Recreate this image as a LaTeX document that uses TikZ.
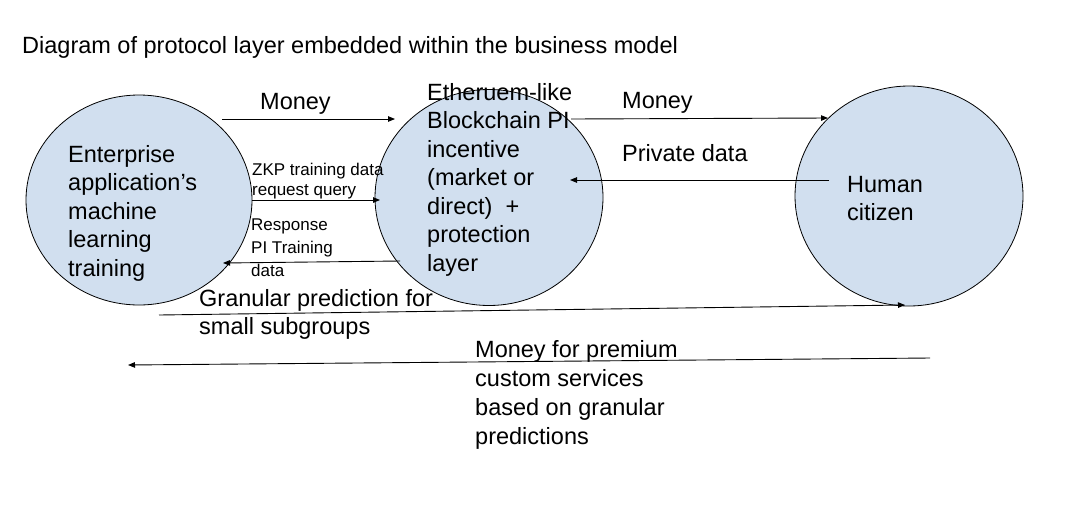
\documentclass[tikz,border=0pt]{standalone}
\usepackage{fontspec}
\setmainfont{Liberation Sans}
\usetikzlibrary{arrows.meta,shapes.geometric}
\definecolor{bubble}{HTML}{D1DFEF}
\newcommand\tstrut{\rule{0pt}{0.8em}}
\begin{document}
\begin{tikzpicture}[x=1pt,y=-1pt,
  bub/.style={draw=black, fill=bubble, line width=0.8pt},
  big/.style={anchor=north west, inner sep=0pt, align=left, font=\fontsize{23.5}{28.5}\selectfont},
  small/.style={anchor=north west, inner sep=0pt, align=left, font=\fontsize{17}{20}\selectfont},
  arr/.style={-{Triangle[length=7pt,width=5.5pt]}, line width=0.9pt}]
\useasboundingbox (0,0) rectangle (1078,512);
\fill[white] (0,0) rectangle (1078,512);

% bubbles
\coordinate (L) at (139,200);
\coordinate (M) at (489,197.5);
\coordinate (R) at (909,196);
\path[bub] (L) ellipse [x radius=113, y radius=105];
\path[bub] (M) ellipse [x radius=114, y radius=108];
\path[bub] (R) ellipse [x radius=114, y radius=110];

% connector end points
\coordinate (a1s) at (222,119);
\coordinate (a1e) at (395,119);
\coordinate (a2s) at (571,119);
\coordinate (a2e) at (828,118);
\coordinate (pds) at (829,180);
\coordinate (pde) at (570,180);
\coordinate (zs) at (252,200);
\coordinate (ze) at (380,200);
\coordinate (rs) at (400,261);
\coordinate (re) at (223,263);
\coordinate (gs) at (159,315);
\coordinate (ge) at (905,305);
\coordinate (ms) at (930,358);
\coordinate (me) at (128,365);

\draw[arr] (a1s) -- (a1e);
\draw[arr] (a2s) -- (a2e);
\draw[arr] (pds) -- (pde);
\draw[arr] (zs) -- (ze);
\draw[arr] (rs) -- (re);
\draw[arr] (gs) -- (ge);
\draw[arr] (ms) -- (me);

% texts
\node[big] (title) at (22,34.2) {\tstrut Diagram of protocol layer embedded within the business model};
\node[big] (tL) at (68,143.2) {\tstrut Enterprise\\application’s\\machine\\learning\\training};
\node[big] (tM) at (427,81.2) {\tstrut Etheruem-like\\Blockchain PI\\incentive\\(market or\\direct)\ \ +\\protection\\layer};
\node[big] (tR) at (847,173.2) {\tstrut Human\\citizen};
\node[big] (money1) at (260,90.2) {\tstrut Money};
\node[big] (money2) at (622,89.2) {\tstrut Money};
\node[big] (priv) at (622,142.2) {\tstrut Private data};
\node[big, font=\fontsize{23.5}{28}\selectfont] (gran) at (199,287.2) {\tstrut Granular prediction for\\small subgroups};
\node[big, font=\fontsize{23.5}{29}\selectfont] (prem) at (475,338.2) {\tstrut Money for premium\\custom services\\based on granular\\predictions};
\node[small] (zkp) at (252,161.4) {\tstrut ZKP training data\\request query};
\node[small, font=\fontsize{17}{23}\selectfont] (resp) at (251,216.4) {\tstrut Response\\PI Training\\data};
\end{tikzpicture}
\end{document}
